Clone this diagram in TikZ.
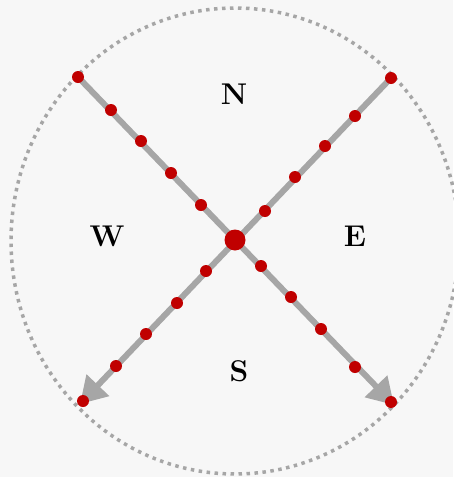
\documentclass[tikz,border=0pt]{standalone}
\usepackage{xcolor}
\usepackage{tikz}
\usetikzlibrary{arrows.meta}
\definecolor{compassgray}{HTML}{A6A6A6}
\definecolor{compassred}{HTML}{C00000}
\definecolor{compassbg}{HTML}{F7F7F7}
\tikzset{
  ring/.style={draw=compassgray, line width=3.5pt, dash pattern=on 3.5pt off 4.5pt},
  ray/.style={draw=compassgray, line width=6pt},
  rayarrow/.style={ray, -{Triangle[length=26pt, width=30pt]}},
  waypoint/.style={circle, fill=compassred, inner sep=0pt, minimum size=12pt},
  hub/.style={circle, fill=compassred, inner sep=0pt, minimum size=21pt},
  dirlabel/.style={font=\fontsize{30}{32}\selectfont\bfseries, inner sep=0pt}
}

\begin{document}
\begin{tikzpicture}[x=1pt, y=-1pt]
  \fill[compassbg] (0,0) rectangle (453,477);
  \useasboundingbox (0,0) rectangle (453,477);
  \draw[ring] (235,241) ellipse [x radius=224, y radius=233];

  \coordinate (nw) at (78,77);
  \coordinate (ne) at (391,78);
  \coordinate (sw) at (80,404);
  \coordinate (se) at (394,405);

  \draw[rayarrow] (nw) -- (se);
  \draw[rayarrow] (ne) -- (sw);

  % points along the two rays
  \foreach \x/\y [count=\i] in {78/77, 111/110, 141/141, 171/173, 201/205, 261/266, 291/297, 321/329, 355/367, 391/402}
    \node[waypoint] (a\i) at (\x,\y) {};
  \foreach \x/\y [count=\i] in {391/78, 355/116, 325/146, 295/177, 265/211, 206/271, 177/303, 146/334, 116/366, 83/401}
    \node[waypoint] (b\i) at (\x,\y) {};
  \node[hub] (hub) at (235,240) {};

  \node[dirlabel] (north) at (234,94) {N};
  \node[dirlabel] (west) at (107,236) {W};
  \node[dirlabel] (east) at (355,236) {E};
  \node[dirlabel] (south) at (239,371) {S};
\end{tikzpicture}
\end{document}
